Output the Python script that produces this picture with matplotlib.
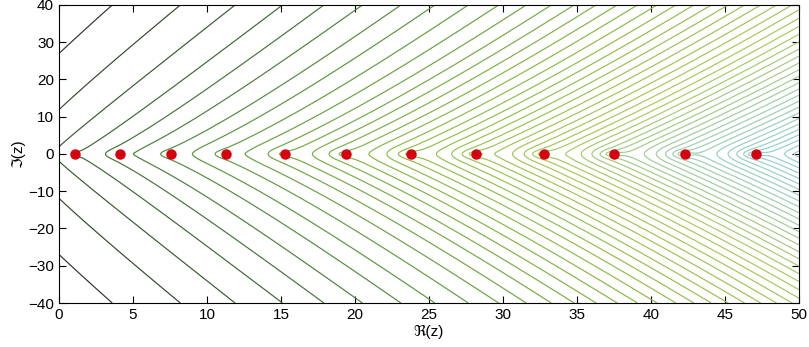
import numpy as np
import matplotlib
matplotlib.use('Agg')
import matplotlib.pyplot as plt
from matplotlib.colors import LinearSegmentedColormap

zeros_re = [1.1, 4.1, 7.6, 11.3, 15.3, 19.4, 23.8, 28.2, 32.8, 37.5, 42.3, 47.1]

# zero counting n(t) = A t^rho, for the zeros beyond the window
A = 0.462
rho = 0.834
t_start = 49.5

# where the contour lines cross the top edge
top_cross = [3.6, 8.2, 11.9, 15.1, 17.9, 20.5, 23.1, 25.4]
# spacing of the lower levels (closer together towards the real axis)
gap_u = [-70, -50, -37, -25, -14.6]
gap_size = [0.8, 1.0, 1.3, 1.8, 2.8]
u_floor = -67.5

x_ticks = [0, 5, 10, 15, 20, 25, 30, 35, 40, 45, 50]
y_ticks = [-40, -30, -20, -10, 0, 10, 20, 30, 40]

x = np.linspace(0, 50, 601)
y = np.linspace(-40, 40, 601)
X, Y = np.meshgrid(x, y)
Z = X + 1j * Y

# log|f| from the visible zeros plus a smooth tail
U = np.zeros_like(X)
for zk in zeros_re:
    U += np.log(np.abs(1 - Z / zk) + 1e-12)
t_edges = np.geomspace(t_start, 1e7, 800)
t_mid = np.sqrt(t_edges[1:] * t_edges[:-1])
w = A * (t_edges[1:]**rho - t_edges[:-1]**rho)
for t, wi in zip(t_mid, w):
    U += wi * np.log(np.abs(1 - Z / t))
U -= X * rho * A * t_edges[-1]**(rho - 1) / (1 - rho)

# contour levels
u_top = np.interp(top_cross, x, U[-1, :])
gaps = -np.diff(u_top)
lev = [u_top[0] + gaps[0] * 1.15] + list(u_top)
while lev[-1] > u_floor:
    lev.append(lev[-1] - np.interp(lev[-1], gap_u, gap_size))
levels = np.sort(lev)

cmap = LinearSegmentedColormap.from_list('bg', [
    (0.0, '#8ccfe3'), (0.12, '#9dcfb4'), (0.25, '#a8c95a'), (0.4, '#8cbd45'),
    (0.6, '#5a9a3e'), (0.75, '#3f6a34'), (0.9, '#2e3a2a'), (1.0, '#262622')])
frac = (levels - levels.min()) / (levels.max() - levels.min())
colors = [cmap(v) for v in frac]

fig = plt.figure(figsize=(8.09, 3.47), dpi=100)
ax = fig.add_axes([0.0729, 0.1268, 0.9147, 0.8588])
ax.contour(X, Y, U, levels=levels, colors=colors, linewidths=0.85)
ax.plot(zeros_re, np.zeros(len(zeros_re)), 'o', color='#d7000f', markersize=6.5, zorder=5)

ax.set_xlim(0, 50)
ax.set_ylim(-40, 40)
ax.set_xticks(x_ticks)
ax.set_yticks(y_ticks)
ax.tick_params(direction='in', top=True, right=True, length=5, width=0.8, labelsize=11)
for lab in ax.get_xticklabels() + ax.get_yticklabels():
    lab.set_family(['Liberation Sans', 'DejaVu Sans'])
ax.set_xlabel('ℜ(z)', fontsize=11, family=['Liberation Sans', 'DejaVu Sans'], labelpad=2)
ax.set_ylabel('ℑ(z)', fontsize=11, family=['Liberation Sans', 'DejaVu Sans'], labelpad=2)
for s in ax.spines.values():
    s.set_linewidth(0.8)

fig.savefig('out.png', dpi=100)
